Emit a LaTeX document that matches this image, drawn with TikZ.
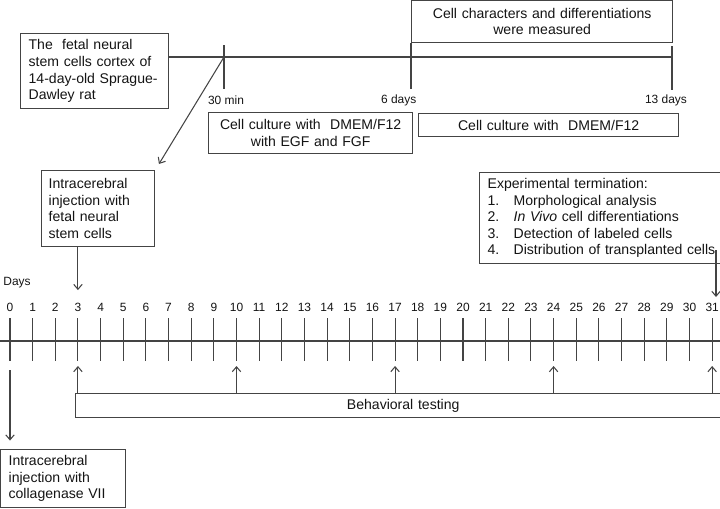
\documentclass[tikz,border=0pt]{standalone}
\usepackage{fontspec}
\setmainfont{Liberation Sans}
\usepackage{xcolor}
\definecolor{ink}{HTML}{141414}
\definecolor{rule}{HTML}{444444}
\usepackage{tikz}
\usetikzlibrary{arrows.meta, positioning, calc}

\tikzset{
  box/.style={draw=rule, line width=0.9pt, inner xsep=0.2cm, inner ysep=0pt,
    anchor=north west, text=ink, font=\fontsize{10}{11.8}\selectfont},
  lbl/.style={text=ink, inner sep=1pt, font=\fontsize{8.5}{10}\selectfont},
  arr/.style={draw=rule, line width=0.75pt, -{Straight Barb[length=3.5pt,width=6pt]}},
  tick/.style={draw=rule, line width=0.75pt}
}

\begin{document}
\begin{tikzpicture}[x=0.025cm, y=-0.025cm]
  \useasboundingbox (0,0) rectangle (720,508);

  % --- In vitro part ---
  \node[box, minimum width=3.7cm, minimum height=1.875cm, text width=3.3cm, align=left]
    (src) at (20,33) {The~ fetal neural\\stem cells cortex of\\14-day-old Sprague-\\Dawley rat};
  \node[box, minimum width=6.525cm, minimum height=1.05cm, text width=6.1cm, align=center]
    (meas) at (411,0) {Cell characters and differentiations\\were measured};
  \node[box, minimum width=5.1cm, minimum height=1.025cm, text width=4.7cm, align=center]
    (egf) at (208,112) {Cell culture with~ DMEM/F12\\with EGF and FGF};
  \node[box, minimum width=6.5cm, minimum height=0.575cm, text width=6.1cm, align=center]
    (dmem) at (418,113) {Cell culture with~ DMEM/F12};

  \coordinate (min30) at (224,57);
  \coordinate (d13) at (672,57);
  \draw[tick] (src.east |- min30) -- (d13);
  \draw[tick] (224,45) -- (224,89);
  \draw[tick] (meas.south west) -- (411,89);
  \draw[tick] (672,46) -- (672,90);
  \node[lbl] (lmin) at (226,100) {30 min};
  \node[lbl, anchor=east] (lsix) at (418,100) {6 days};
  \node[lbl] (lthirteen) at (666,100) {13 days};

  % --- In vivo part ---
  \node[box, minimum width=2.825cm, minimum height=1.9cm, text width=2.475cm, align=left,
    inner xsep=0.175cm] (inj) at (41,170) {Intracerebral\\injection with\\fetal neural\\stem cells};
  \draw[arr, shorten >=5pt] (min30) -- (inj.north east);

  \node[box, minimum width=6.275cm, minimum height=2.275cm, text width=5.875cm, align=left]
    (term) at (479,172) {Experimental termination:\\
      \makebox[0.65cm][l]{1.}Morphological analysis\\
      \makebox[0.65cm][l]{2.}\textit{In Vivo} cell differentiations\\
      \makebox[0.65cm][l]{3.}Detection of labeled cells\\
      \makebox[0.65cm][l]{4.}Distribution of transplanted cells};

  % axis with days
  \node[lbl] (days) at (17,283) {Days};
  \draw[tick] (0,341) -- (720,341);
  \foreach \i in {0,...,31} {
    \pgfmathsetmacro{\xx}{10+22.65*\i}
    \node[lbl] (n\i) at (\xx,307) {\i};
    \draw[tick] (\xx,318) -- (\xx,361);
  }

  \draw[arr] (inj.south -| n3) -- ($(n3.north)+(0,-11)$);
  \coordinate (termdrop) at (716,250);
  \draw[arr] (termdrop) -- ++(0,47);

  \node[box, minimum width=16.375cm, minimum height=0.6cm, text width=15.9cm, align=center]
    (beh) at (75,393) {Behavioral testing};
  \foreach \i in {3,10,17,24,31}
    \draw[arr] (beh.north -| n\i) -- ++(0,-27);

  \node[box, minimum width=3.125cm, minimum height=1.45cm, text width=2.725cm, align=left]
    (col) at (0,449) {Intracerebral\\injection with\\collagenase VII};
  \draw[arr, shorten >=6pt] (10,370) -- (col.north -| n0);
\end{tikzpicture}
\end{document}
